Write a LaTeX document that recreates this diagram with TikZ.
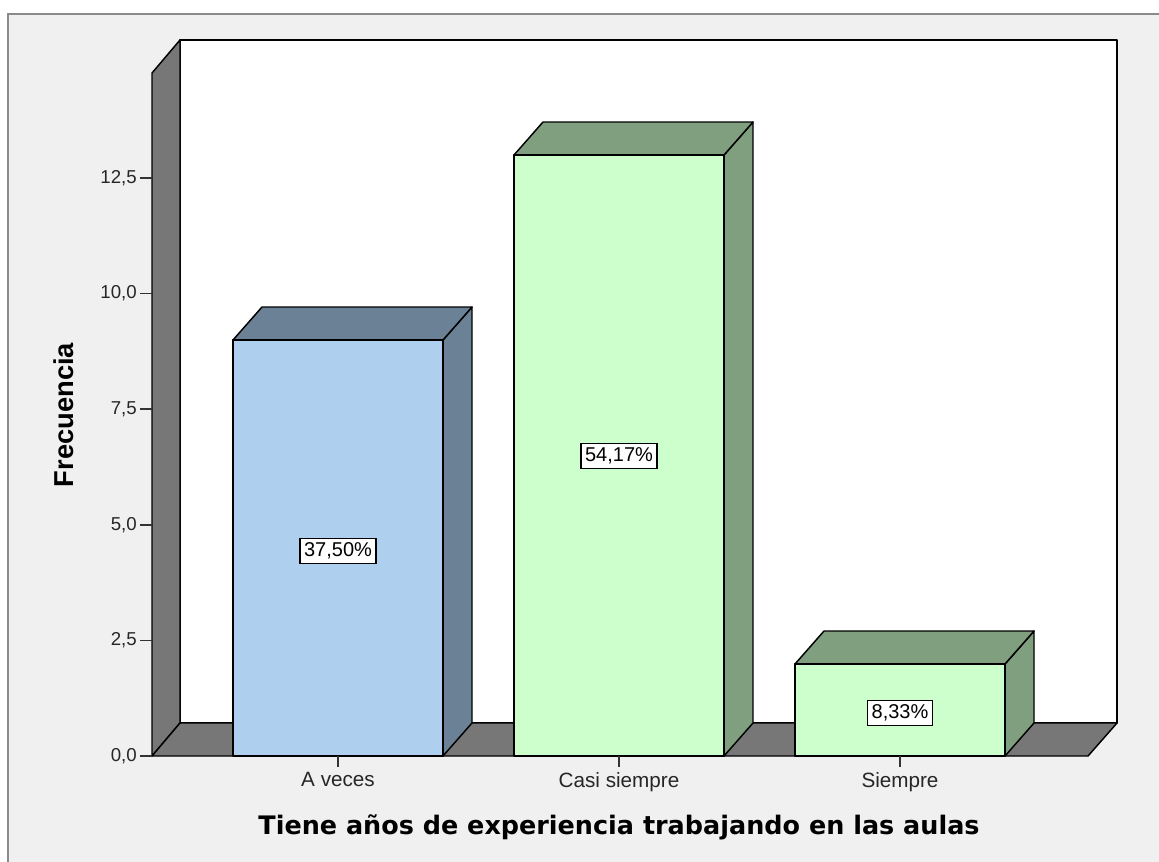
\documentclass[tikz,border=0pt]{standalone}
\usepackage{fontspec}
\setmainfont{Liberation Sans}
\newfontfamily\titlefont{DejaVu Sans}
\definecolor{frameback}{RGB}{240,240,240}
\definecolor{frameline}{RGB}{138,138,138}
\definecolor{wallgray}{RGB}{119,119,119}
\definecolor{bluefront}{RGB}{174,208,238}
\definecolor{blueside}{RGB}{106,129,150}
\definecolor{greenfront}{RGB}{204,255,204}
\definecolor{greenside}{RGB}{127,159,127}
\begin{document}
\begin{tikzpicture}[x=0.75pt,y=0.75pt,yscale=-1,xscale=1,
  wall/.style={draw=black,line width=1.1pt,line join=round,fill=wallgray},
  edge/.style={draw=black,line width=1.1pt,line join=round},
  tickline/.style={draw=black!80,line width=1.1pt},
  ticklabel/.style={inner sep=0.75pt,font=\fontsize{14}{16}\selectfont,text=black!85},
  catlabel/.style={inner sep=0.75pt,font=\fontsize{15.5}{18}\selectfont,text=black!85},
  pctbox/.style={draw=black,line width=0.9pt,fill=white,inner sep=3pt,font=\fontsize{15}{17}\selectfont}]
\useasboundingbox (0,0) rectangle (1159,861);
%Shape: Rectangle [outer frame]
\draw [fill=white,draw=none] (0,0) rectangle (1159,861);
\draw [fill=frameback,draw=frameline,line width=1.5pt] (8,14) rectangle (1170,875);

%Shape: Rectangle [back wall]
\draw [edge,fill=white] (180,40) -- (1117,40) -- (1117,723) -- (180,723) -- cycle ;
%Shape: Polygon [left wall]
\draw [wall] (152,73) -- (180,40) -- (180,723) -- (152,756) -- cycle ;
%Shape: Polygon [floor]
\draw [wall] (152,756) -- (180,723) -- (1117,723) -- (1088,756) -- cycle ;

%Shape: Bar [A veces]
\draw [edge,fill=blueside] (443,340) -- (472,307) -- (472,723) -- (443,756) -- cycle ;
\draw [edge,fill=blueside] (233,340) -- (262,307) -- (472,307) -- (443,340) -- cycle ;
\draw [edge,fill=bluefront] (233,340) rectangle (443,756) ;
%Shape: Bar [Casi siempre]
\draw [edge,fill=greenside] (724,155) -- (753,122) -- (753,723) -- (724,756) -- cycle ;
\draw [edge,fill=greenside] (514,155) -- (543,122) -- (753,122) -- (724,155) -- cycle ;
\draw [edge,fill=greenfront] (514,155) rectangle (724,756) ;
%Shape: Bar [Siempre]
\draw [edge,fill=greenside] (1005,664) -- (1034,631) -- (1034,723) -- (1005,756) -- cycle ;
\draw [edge,fill=greenside] (795,664) -- (824,631) -- (1034,631) -- (1005,664) -- cycle ;
\draw [edge,fill=greenfront] (795,664) rectangle (1005,756) ;

%Axis ticks
\draw [tickline] (140,756) -- (152,756) ;
\draw [tickline] (140,640.4) -- (152,640.4) ;
\draw [tickline] (140,524.8) -- (152,524.8) ;
\draw [tickline] (140,409.1) -- (152,409.1) ;
\draw [tickline] (140,293.5) -- (152,293.5) ;
\draw [tickline] (140,177.9) -- (152,177.9) ;
\draw [tickline] (338,756) -- (338,767) ;
\draw [tickline] (619,756) -- (619,767) ;
\draw [tickline] (900,756) -- (900,767) ;

% Text Node
\draw (138,756) node [anchor=east][ticklabel] (y0) {0,0};
% Text Node
\draw (138,640.4) node [anchor=east][ticklabel] (y1) {2,5};
% Text Node
\draw (138,524.8) node [anchor=east][ticklabel] (y2) {5,0};
% Text Node
\draw (138,409.1) node [anchor=east][ticklabel] (y3) {7,5};
% Text Node
\draw (138,293.5) node [anchor=east][ticklabel] (y4) {10,0};
% Text Node
\draw (138,177.9) node [anchor=east][ticklabel] (y5) {12,5};
% Text Node
\draw (338,771) node [anchor=north][catlabel] (aveces) {A veces};
% Text Node
\draw (619,771) node [anchor=north][catlabel] (casisiempre) {Casi siempre};
% Text Node
\draw (900,771) node [anchor=north][catlabel] (siempre) {Siempre};
% Text Node
\draw (338,551) node [pctbox] (pa) {37,50\%};
% Text Node
\draw (619,456) node [pctbox] (pb) {54,17\%};
% Text Node
\draw (900,713) node [pctbox] (pc) {8,33\%};
% Text Node
\draw (64,415) node [rotate=90,inner sep=0pt,font=\fontsize{20.5}{24}\selectfont\bfseries] (ylabel) {Frecuencia};
% Text Node
\draw (619,827) node [inner sep=0pt,font=\titlefont\fontsize{19.1}{23}\selectfont\bfseries] (xlabel) {Tiene años de experiencia trabajando en las aulas};
\end{tikzpicture}
\end{document}
